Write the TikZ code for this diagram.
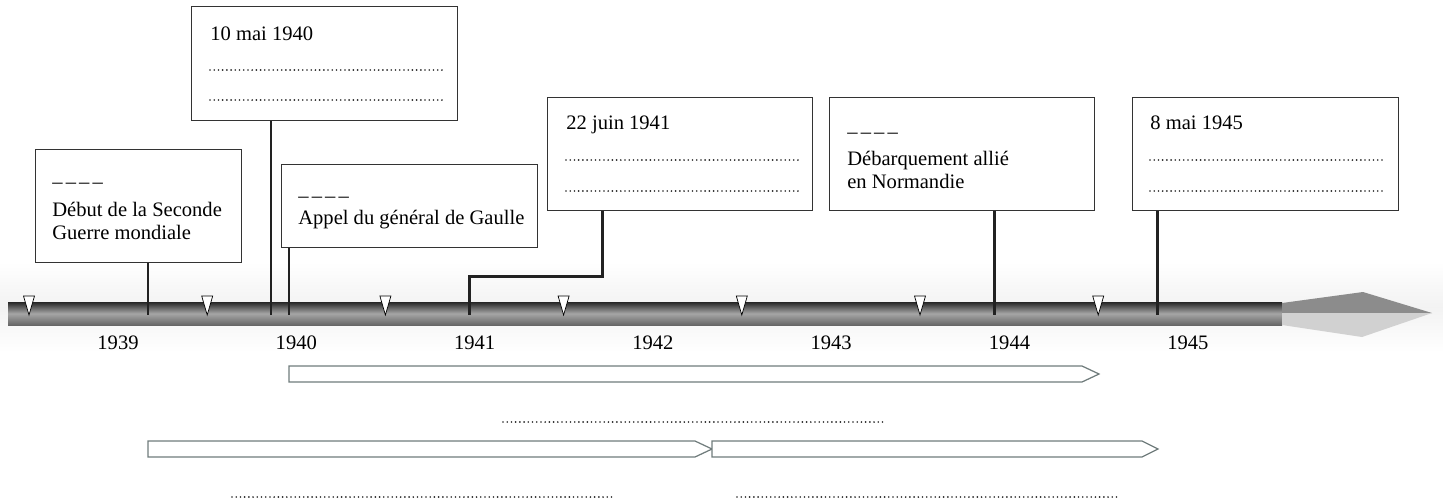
\documentclass[tikz,border=0pt]{standalone}
\usepackage{fontspec}
\setmainfont{Liberation Serif}
\usepackage{tikz}
\definecolor{boxline}{RGB}{51,51,51}
\definecolor{stemcol}{RGB}{34,34,34}
\definecolor{periodline}{RGB}{112,124,124}
\newcommand{\evfont}{\fontsize{11.7}{12.8}\selectfont}
\newcommand{\blank}{--\kern1.8pt--\kern1.8pt--\kern1.8pt--}

\tikzset{
  evbox/.style={draw=boxline, line width=0.75pt, fill=white,
                inner sep=0pt, anchor=north west},
  evtext/.style={font=\evfont, align=left, inner sep=0pt,
                 anchor=north west},
  stem/.style={draw=stemcol, line width=1.7pt},
  fillin/.style={line width=1.05pt, line cap=round, draw=black!85,
                 dash pattern=on 0pt off 2.4pt},
  period/.style={draw=periodline, line width=0.7pt, fill=white},
  halfyear/.style={draw=black, line width=0.4pt, fill=white},
  yearlbl/.style={font=\evfont, anchor=base, inner sep=0pt}
}

\begin{document}
\begin{tikzpicture}[x=0.02cm, y=-0.02cm]
  \useasboundingbox (0,0) rectangle (1443,501);

  % Faint band behind the time line
  \shade[top color=white, bottom color=white, middle color=black!5]
    (0,262) rectangle (1443,352);

  % Time line and its head
  \shade[top color=black!85, bottom color=black!60, middle color=black!35]
    (8,302) rectangle (1282,325);
  \fill[black!45] (1282,303) -- (1363,292) -- (1432,313) -- (1282,313) -- cycle;
  \fill[black!18] (1282,313) -- (1432,313) -- (1362,337) -- (1282,325) -- cycle;

  % Years and half years
  \foreach \yr [count=\i from 0] in {1939,...,1945}
    \node[yearlbl] (y\yr) at (118+178.3*\i,349) {\yr};
  \foreach \i in {0,...,6}
    \draw[halfyear] (29+178.2*\i-5.5,296) -- (29+178.2*\i+5.5,296)
      -- (29+178.2*\i,315) -- cycle;

  % Event boxes
  \node[evbox, minimum width=4.12cm, minimum height=2.26cm]
    (b1939) at (35,149) {};
  \node[evtext] (t1939) at (52,172)
    {\strut\blank\\[3.6pt] Début de la Seconde\\ Guerre mondiale};

  \node[evbox, minimum width=5.32cm, minimum height=2.28cm]
    (bmai40) at (191,6) {};
  \node[evtext] (tmai40) at (210,24) {\strut 10 mai 1940};

  \node[evbox, minimum width=5.12cm, minimum height=1.66cm]
    (bappel) at (281,164) {};
  \node[evtext] (tappel) at (298,186)
    {\strut\blank\\ Appel du général de Gaulle};

  \node[evbox, minimum width=5.30cm, minimum height=2.26cm]
    (bjuin41) at (547,97) {};
  \node[evtext] (tjuin41) at (566,113) {\strut 22 juin 1941};

  \node[evbox, minimum width=5.30cm, minimum height=2.26cm]
    (bdday) at (829,97) {};
  \node[evtext] (tdday) at (847,122)
    {\strut\blank\\[3pt] Débarquement allié\\ en Normandie};

  \node[evbox, minimum width=5.32cm, minimum height=2.26cm]
    (bmai45) at (1132,97) {};
  \node[evtext] (tmai45) at (1150,113) {\strut 8 mai 1945};

  % Lines to fill in
  \draw[fillin] (210,70) -- (443,70);
  \draw[fillin] (210,100) -- (443,100);
  \draw[fillin] (566,160) -- (798,160);
  \draw[fillin] (566,191) -- (798,191);
  \draw[fillin] (1150,160) -- (1383,160);
  \draw[fillin] (1150,191) -- (1383,191);

  % Stems down to the time line
  \coordinate (s1939) at (148,315);
  \coordinate (smai40) at (271,315);
  \coordinate (sappel) at (289,315);
  \coordinate (kjuin41) at (602,276);
  \coordinate (sjuin41) at (469,315);
  \coordinate (sdday) at (994,315);
  \coordinate (smai45) at (1157,315);
  \draw[stem] (b1939.south -| s1939) -- (s1939);
  \draw[stem] (bmai40.south -| smai40) -- (smai40);
  \draw[stem] (bappel.south -| sappel) -- (sappel);
  \draw[stem] (bjuin41.south -| kjuin41) -- (kjuin41) -| (sjuin41);
  \draw[stem] (bdday.south -| sdday) -- (sdday);
  \draw[stem] (bmai45.south -| smai45) -- (smai45);

  % Periods
  \draw[period] (289,366) -- (1082,366) -- (1099,374) -- (1082,382)
    -- (289,382) -- cycle;
  \draw[fillin] (503,422) -- (883,422);
  \draw[period] (148,441) -- (695,441) -- (712,449) -- (695,457)
    -- (148,457) -- cycle;
  \draw[period] (712,441) -- (1142,441) -- (1158,449) -- (1142,457)
    -- (712,457) -- cycle;
  \draw[fillin] (232,497) -- (612,497);
  \draw[fillin] (737,497) -- (1117,497);

\end{tikzpicture}
\end{document}
